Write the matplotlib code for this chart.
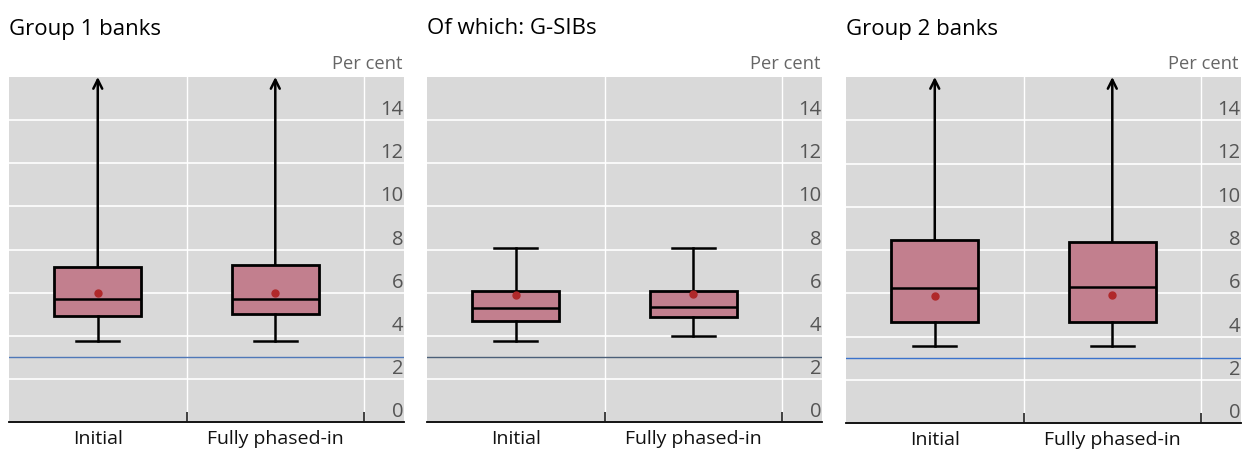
import matplotlib
matplotlib.use("Agg")
import matplotlib.pyplot as plt
import numpy as np

plt.rcParams['font.family'] = ['Open Sans', 'DejaVu Sans']

# box plot statistics (per cent)
titles = ['Group 1 banks', 'Of which: G-SIBs', 'Group 2 banks']
categories = ['Initial', 'Fully phased-in']
whis_lo = [[3.76, 3.77], [3.76, 3.98], [3.58, 3.58]]
q1 = [[4.93, 5.00], [4.67, 4.89], [4.67, 4.67]]
median = [[5.72, 5.72], [5.27, 5.32], [6.25, 6.28]]
q3 = [[7.21, 7.29], [6.06, 6.06], [8.47, 8.37]]
# None = upper whisker runs off the scale (drawn as an arrow)
whis_hi = [[None, None], [8.09, 8.09], [None, None]]
mean = [[6.00, 6.00], [5.89, 5.95], [5.85, 5.90]]
threshold = [3.02, 3.02, 3.00]
threshold_colors = ['#4f78b8', '#4b5f78', '#3a72cc']

yticks = [0, 2, 4, 6, 8, 10, 12, 14]
ymax = 16

box_color = '#c27f8e'
bg = '#d9d9d9'

fig = plt.figure(figsize=(12.43, 4.5), dpi=100)
W, H = 1243, 450
lefts = [9, 427, 846]
width = 395
bottoms = [422, 422, 423]
top = 77

for i in range(3):
    ax = fig.add_axes([lefts[i] / W, 1 - bottoms[i] / H, width / W, (bottoms[i] - top) / H])
    ax.set_facecolor(bg)
    pos = np.arange(len(categories))
    stats = []
    for j in range(len(categories)):
        hi = whis_hi[i][j] if whis_hi[i][j] is not None else q3[i][j]
        stats.append(dict(whislo=whis_lo[i][j], q1=q1[i][j], med=median[i][j],
                          q3=q3[i][j], whishi=hi, fliers=[]))
    bp = ax.bxp(stats, positions=pos, widths=0.49, patch_artist=True,
                showfliers=False, capwidths=0.24,
                boxprops=dict(facecolor=box_color, edgecolor='black', linewidth=2),
                medianprops=dict(color='black', linewidth=1.8),
                whiskerprops=dict(color='black', linewidth=1.8),
                capprops=dict(color='black', linewidth=1.8))
    for j in range(len(categories)):
        if whis_hi[i][j] is None:
            bp['caps'][2 * j + 1].set_visible(False)
            ax.annotate('', xy=(pos[j], ymax), xytext=(pos[j], q3[i][j]),
                        arrowprops=dict(arrowstyle='->', color='black', lw=1.8,
                                        shrinkA=0, shrinkB=0, mutation_scale=16),
                        annotation_clip=False)
    ax.plot(pos, mean[i], 'o', color='#b0282a', markersize=5, zorder=5)
    ax.axhline(threshold[i], color=threshold_colors[i], lw=1, zorder=1.5)

    ax.set_xlim(-0.5, 1.725)
    ax.set_ylim(0, ymax)
    ax.set_axisbelow(True)

    ax.set_xticks(pos)
    ax.set_xticklabels(categories, fontsize=14, color='#111111')
    ax.set_xticks([0.5, 1.5], minor=True)
    ax.tick_params(axis='x', which='major', length=0, pad=6)
    ax.tick_params(axis='x', which='minor', direction='in', length=7, width=1.3, color='#333333')
    ax.grid(axis='x', which='minor', color='white', lw=1)

    ax.set_yticks(yticks)
    ax.grid(axis='y', which='major', color='white', lw=1.2)
    ax.tick_params(axis='y', which='major', left=False, right=False, labelleft=False,
                   labelright=True, pad=-4, labelsize=14.5, labelcolor='#555555')
    for lbl in ax.get_yticklabels():
        lbl.set_horizontalalignment('right')
        lbl.set_verticalalignment('bottom')

    for s in ['top', 'left', 'right']:
        ax.spines[s].set_visible(False)
    ax.spines['bottom'].set_color('black')
    ax.spines['bottom'].set_linewidth(1.3)

    fig.text(lefts[i] / W, 1 - 29 / H, titles[i], fontsize=16, va='center', ha='left', color='black')
    fig.text((lefts[i] + width - 2) / W, 1 - 64 / H, 'Per cent', fontsize=13.2, va='center',
             ha='right', color='#666666')

fig.savefig('out.png', dpi=100)
